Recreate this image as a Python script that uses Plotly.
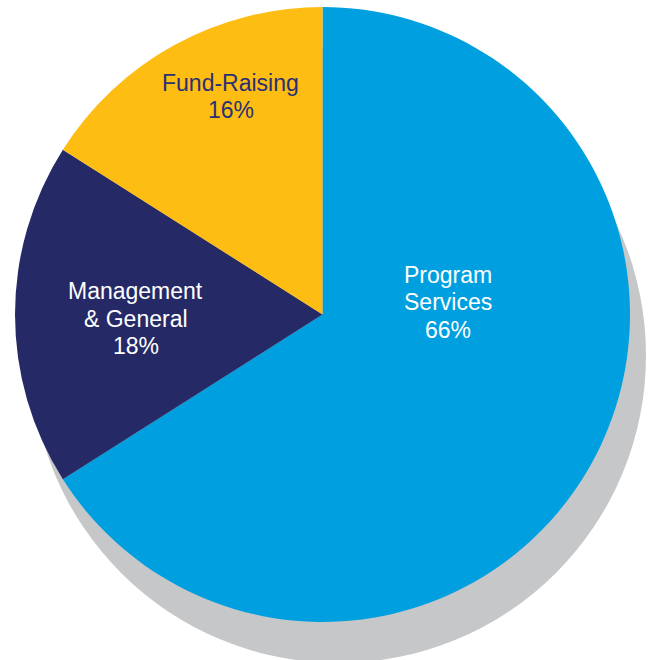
import plotly.graph_objects as go

# ---- data ----
categories = ["Program Services", "Management & General", "Fund-Raising"]
values = [66, 18, 16]
colors = ["#00A0E0", "#252A67", "#FDBD12"]
text_colors = ["#FFFFFF", "#FFFFFF", "#2B3076"]

W, H = 648, 660
# pie geometry (screen pixels)
cx, cy, R = 322.5, 314.5, 307.5
# shadow offset (pixels)
sdx, sdy = 16, 41

def px_x(x):
    return x / W

def px_y(y):
    return 1 - y / H

fig = go.Figure()
fig.add_trace(go.Pie(
    labels=categories,
    values=values,
    marker=dict(colors=colors, line=dict(width=0)),
    sort=False,
    direction="clockwise",
    rotation=0,
    textinfo="none",
    hoverinfo="label+percent",
    showlegend=False,
    domain=dict(x=[px_x(cx - R), px_x(cx + R)], y=[px_y(cy + R), px_y(cy - R)]),
))

# drop shadow behind the pie
fig.add_shape(
    type="circle", xref="paper", yref="paper", layer="below",
    x0=px_x(cx + sdx - R), x1=px_x(cx + sdx + R),
    y0=px_y(cy + sdy + R), y1=px_y(cy + sdy - R),
    fillcolor="#C6C7C9", line=dict(width=0),
)

# label placements (screen pixel centres of text block) and line pitch
label_pos = [(447.5, 302.5), (135.5, 318.5), (230.5, 96.5)]
line_pitch = 27.6
total = sum(values)
for name, v, tc, (lx, ly) in zip(categories, values, text_colors, label_pos):
    lines = name.split(" ", 1) + [f"{round(100 * v / total)}%"]
    n = len(lines)
    for i, line in enumerate(lines):
        yy = ly + (i - (n - 1) / 2) * line_pitch
        fig.add_annotation(
            x=px_x(lx), y=px_y(yy), xref="paper", yref="paper",
            text=line, showarrow=False, align="center",
            xanchor="center", yanchor="middle",
            font=dict(family="Liberation Sans, Arial, sans-serif", size=23, color=tc),
        )

fig.update_layout(
    width=W, height=H,
    margin=dict(l=0, r=0, t=0, b=0),
    paper_bgcolor="white",
    plot_bgcolor="white",
)

fig.write_html("out.html", config={"displayModeBar": False},
               post_script="document.body.style.margin='0px';")
